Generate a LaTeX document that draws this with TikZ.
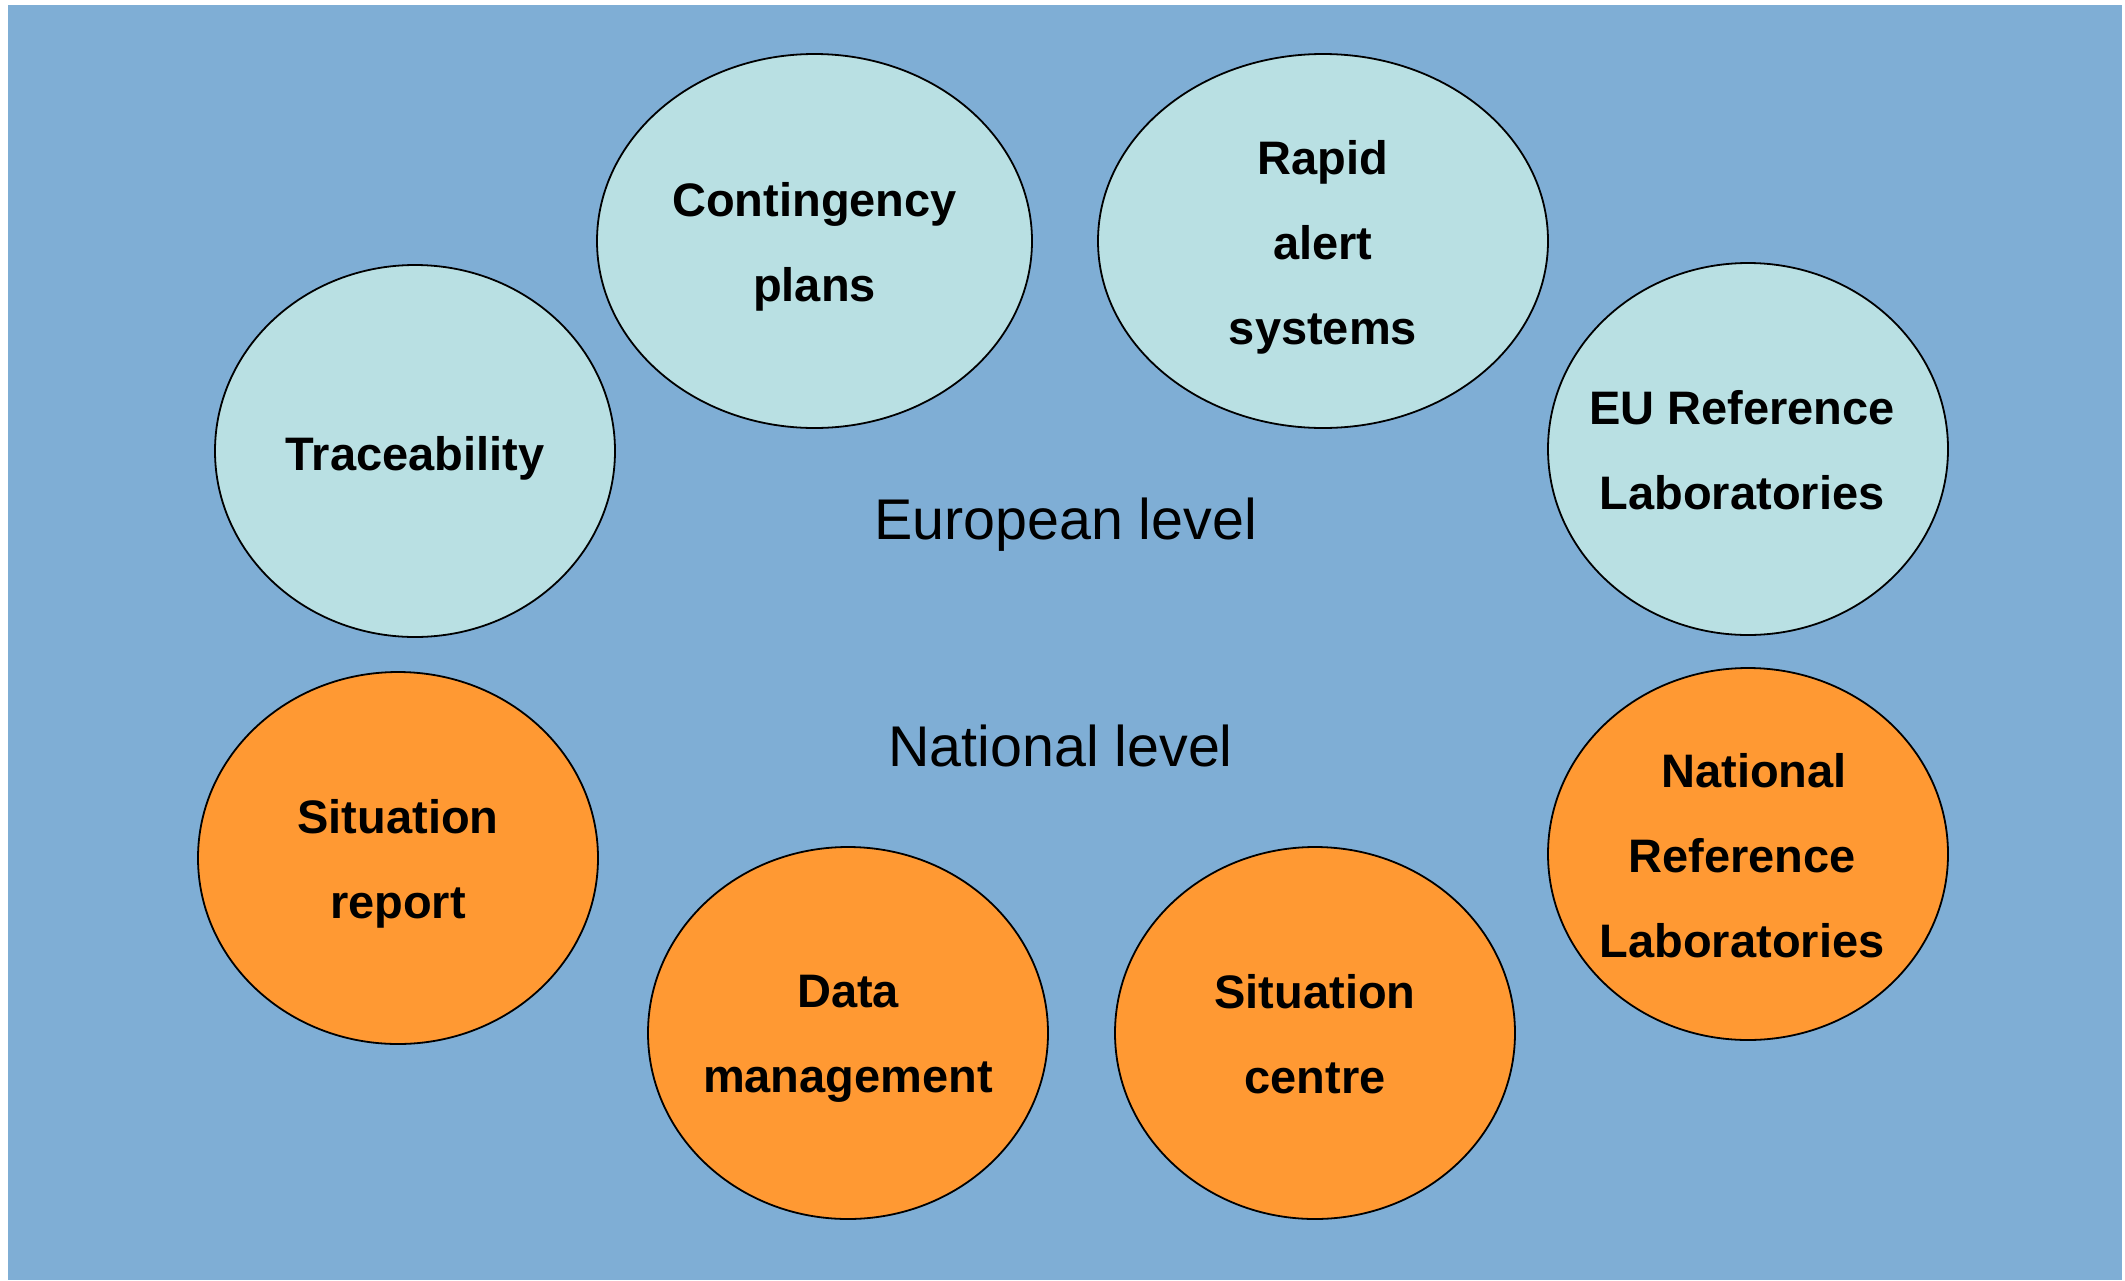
\documentclass[tikz,border=0pt]{standalone}
\usepackage{fontspec}
\setmainfont{Liberation Sans}
\usetikzlibrary{shapes.geometric}
\definecolor{bgblue}{RGB}{127,174,213}
\definecolor{lightcyan}{RGB}{185,224,227}
\definecolor{orangefill}{RGB}{255,153,51}
\newcommand{\labstrut}{\rule[-6pt]{0pt}{24pt}}
\tikzset{
  ell/.style={ellipse, draw=black, line width=0.9pt, inner sep=0pt,
    minimum width=400*0.5pt, minimum height=372*0.5pt},
  euell/.style={ell, fill=lightcyan},
  natell/.style={ell, fill=orangefill},
  lab/.style={font=\fontsize{23.5}{42.5}\bfseries\selectfont, align=center, inner sep=0pt, text=black,
    execute at begin node={\labstrut}, execute at end node={\labstrut}, yshift=-3.5pt},
  level/.style={font=\fontsize{28.7}{34}\selectfont, anchor=base, inner sep=0pt, text=black}
}
\begin{document}
\begin{tikzpicture}[x=0.5pt,y=-0.5pt]
\useasboundingbox (0,0) rectangle (2125,1280);
\fill[white] (0,0) rectangle (2125,1280);
\fill[bgblue] (8,5) rectangle (2122,1280);
% European level ellipses
\node[euell, minimum width=435*0.5pt, minimum height=374*0.5pt] (cp) at (814.5,241) {};
\node[euell, minimum width=450*0.5pt, minimum height=374*0.5pt] (ra) at (1323,241) {};
\node[euell] (tr) at (415,451) {};
\node[euell] (eurl) at (1748,449) {};
% National level ellipses
\node[natell] (sr) at (398,858) {};
\node[natell] (dm) at (848,1033) {};
\node[natell] (sc) at (1315,1033) {};
\node[natell] (nrl) at (1748,854) {};
% labels
\node[lab] (tcp) at (cp.center) {Contingency\\plans};
\node[lab] (tra) at (ra.center) {Rapid\\alert\\systems};
\node[lab] (ttr) at (tr.center) {Traceability};
\node[lab] (teurl) at ([xshift=-6*0.5pt]eurl.center) {EU Reference\\Laboratories};
\node[lab] (tsr) at (sr.center) {Situation\\report};
\node[lab] (tdm) at (dm.center) {Data\\management};
\node[lab] (tsc) at (sc.center) {Situation\\centre};
\node[lab] (tnrl) at ([xshift=-6*0.5pt]nrl.center) {\hspace*{12pt}National\\Reference\\Laboratories};
% level texts
\node[level] (eu) at (1065.5,539) {European level};
\node[level] (nat) at (1060.5,766) {National level};
\end{tikzpicture}
\end{document}
